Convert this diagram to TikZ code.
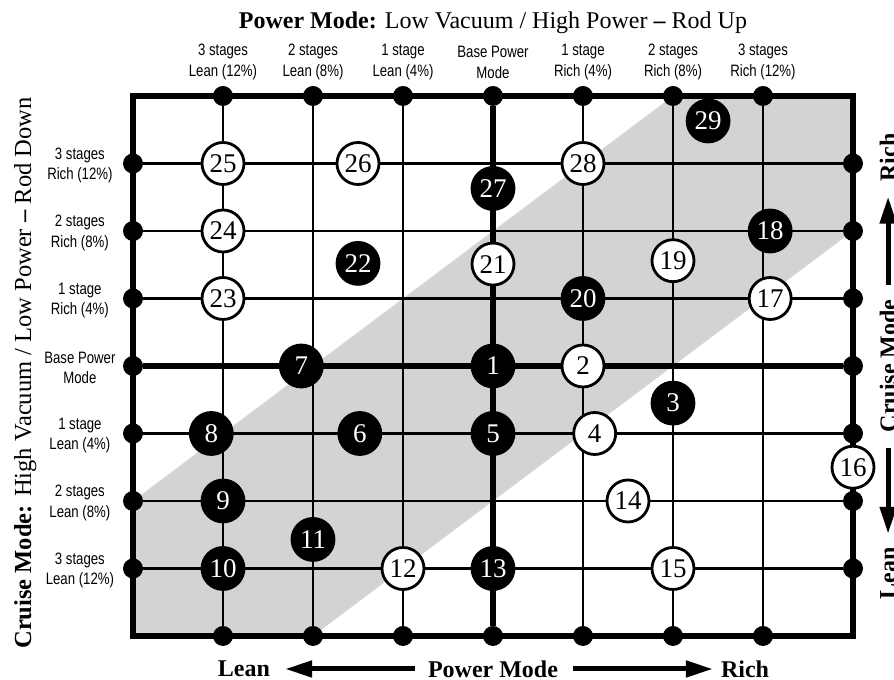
\documentclass[tikz,border=0pt]{standalone}
\usepackage{fontspec}
\setmainfont{Liberation Serif}
\newfontfamily\labfont[FakeStretch=0.8]{Liberation Sans}
\usetikzlibrary{arrows.meta}
\definecolor{bandgray}{HTML}{D1D3D4}
\tikzset{
  dot/.style={circle,fill=black,inner sep=0pt,minimum size=20pt},
  spotw/.style={circle,draw=black,fill=white,line width=2.8pt,inner sep=0pt,minimum size=42pt,font=\fontsize{27}{27}\selectfont},
  spotb/.style={spotw,fill=black,text=white},
  thinline/.style={line width=2.6pt},
  thickline/.style={line width=6.5pt},
  lab/.style={align=center,inner sep=0pt,font=\labfont\fontsize{16.5}{20.7}\selectfont},
  bigword/.style={inner sep=0pt,font=\bfseries\fontsize{24}{24}\selectfont},
  bigarrow/.style={line width=5pt,-{Triangle[length=27pt,width=16pt]}}
}
\newcommand{\gridcol}[2]{\node[dot] (t#1) at (#1,8) {}; \node[dot] (b#1) at (#1,0) {}; \draw[#2] (t#1) -- (b#1);}
\newcommand{\gridrow}[2]{\node[dot] (l#1) at (0,#1) {}; \node[dot] (r#1) at (8,#1) {}; \draw[#2] (l#1) -- (r#1);}
\newcommand{\spotw}[3]{\node[spotw] (n#3) at (#1,#2) {#3};}
\newcommand{\spotb}[3]{\node[spotb] (n#3) at (#1,#2) {#3};}
\newcommand{\collab}[3]{\node[lab] (cl#1) at (#1,8.5) {#2\\#3};}
\newcommand{\rowlab}[3]{\node[lab] (rl#1) at (-0.59,#1-0.03) {#2\\#3};}

\begin{document}
\begin{tikzpicture}[x=90pt,y=67.5pt]
            \useasboundingbox (-1.4778,-0.6519) rectangle (8.4556,9.4222);
            % band and frame
            \fill[bandgray] (0,2) -- (6,8) -- (8,8) -- (8,6) -- (2,0) -- (0,0) -- cycle;
            \draw[line width=6pt] (0,0) rectangle (8,8);
            % columns
            \gridcol{1}{thinline}
            \gridcol{2}{thinline}
            \gridcol{3}{thinline}
            \gridcol{4}{thickline}
            \gridcol{5}{thinline}
            \gridcol{6}{thinline}
            \gridcol{7}{thinline}
            % rows
            \gridrow{1}{thinline}
            \gridrow{2}{thinline}
            \gridrow{3}{thinline}
            \gridrow{4}{thickline}
            \gridrow{5}{thinline}
            \gridrow{6}{thinline}
            \gridrow{7}{thinline}
            % top part
            \spotw{1}{7}{25}
            \spotw{2.5}{7}{26}
            \spotb{4}{6.63}{27}
            \spotw{5}{7}{28}
            \spotb{6.39}{7.63}{29}
            \spotw{1}{6}{24}
            \spotb{2.5}{5.52}{22}
            \spotw{4}{5.51}{21}
            \spotw{6}{5.56}{19}
            \spotb{7.08}{6}{18}
            \spotw{1}{5}{23}
            \spotb{5}{5}{20}
            \spotw{7.08}{5}{17}
            % base row
            \spotb{1.87}{4}{7}
            \spotb{4}{4}{1}
            \spotw{5}{4}{2}
            % bottom part
            \spotb{6}{3.45}{3}
            \spotb{0.87}{3}{8}
            \spotb{2.52}{3}{6}
            \spotb{4}{3}{5}
            \spotw{5.13}{3}{4}
            \spotw{8}{2.5}{16}
            \spotb{1}{2}{9}
            \spotw{5.5}{2}{14}
            \spotb{2}{1.43}{11}
            \spotb{1}{1}{10}
            \spotw{3}{1}{12}
            \spotb{4}{1}{13}
            \spotw{6}{1}{15}
            % column labels
            \node[anchor=base,inner sep=0pt,font=\fontsize{24}{24}\selectfont] (title) at (4,9.003) {\textbf{Power Mode:} Low Vacuum / High Power \textbf{–} Rod Up};
            \collab{1}{3 stages}{Lean (12\%)}
            \collab{2}{2 stages}{Lean (8\%)}
            \collab{3}{1 stage}{Lean (4\%)}
            \collab{4}{Base Power}{Mode}
            \collab{5}{1 stage}{Rich (4\%)}
            \collab{6}{2 stages}{Rich (8\%)}
            \collab{7}{3 stages}{Rich (12\%)}
            % row labels
            \node[rotate=90,anchor=base,inner sep=0pt,font=\fontsize{24.5}{24.5}\selectfont] (sidetitle) at (-1.133,3.896) {\textbf{Cruise Mode:} High Vacuum / Low Power \textbf{–} Rod Down};
            \rowlab{7}{3 stages}{Rich (12\%)}
            \rowlab{6}{2 stages}{Rich (8\%)}
            \rowlab{5}{1 stage}{Rich (4\%)}
            \rowlab{4}{Base Power}{Mode}
            \rowlab{3}{1 stage}{Lean (4\%)}
            \rowlab{2}{2 stages}{Lean (8\%)}
            \rowlab{1}{3 stages}{Lean (12\%)}
            % cruise mode arrows
            \node[bigword,rotate=90] (cm) at (8.39,4) {Cruise Mode};
            \node[bigword,rotate=90] (cmrich) at (8.39,7.09) {Rich};
            \node[bigword,rotate=90] (cmlean) at (8.39,0.933) {Lean};
            \draw[bigarrow,shorten <=14pt,shorten >=15pt] (cm.east) -- (cmrich.west);
            \draw[bigarrow,shorten <=15pt,shorten >=13pt] (cm.west) -- (cmlean.east);
            % power mode arrows
            \node[bigword] (pm) at (4,-0.489) {Power Mode};
            \node[bigword] (pmlean) at (1.233,-0.489) {Lean};
            \node[bigword] (pmrich) at (6.8,-0.489) {Rich};
            \draw[bigarrow,shorten <=13pt,shorten >=15pt] (pm.west) -- (pmlean.east);
            \draw[bigarrow,shorten <=15pt,shorten >=8pt] (pm.east) -- (pmrich.west);
        \end{tikzpicture}
\end{document}
